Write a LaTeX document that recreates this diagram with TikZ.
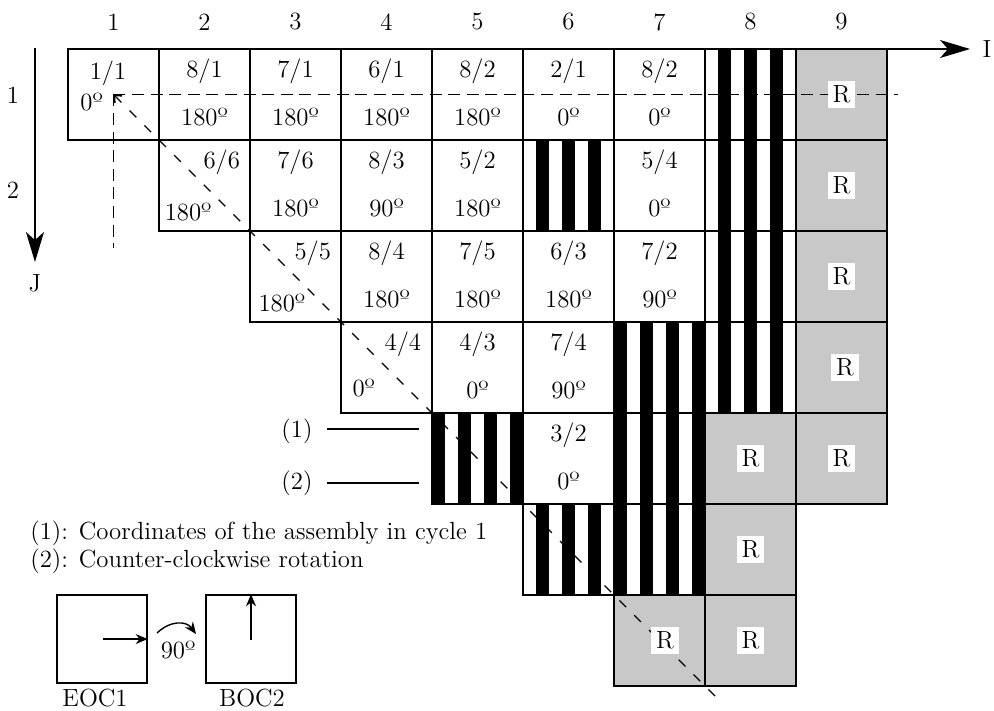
\documentclass[tikz,border=0pt]{standalone}
\usetikzlibrary{arrows.meta}
\definecolor{cellgray}{RGB}{200,200,200}
\newcommand{\cellfont}{\fontsize{12.4}{15}\selectfont}
\begin{document}
\begin{tikzpicture}[x=1.6cm,y=-1.6cm,
  cellbox/.style={draw,line width=0.7pt,minimum size=1.6cm,inner sep=0pt,outer sep=0pt},
  graybox/.style={cellbox,fill=cellgray},
  txt/.style={font=\cellfont,inner sep=1pt},
  rlab/.style={font=\cellfont,fill=white,inner sep=2.5pt},
  gdash/.style={line width=0.7pt,dash pattern=on 6pt off 3.3pt},
  ddash/.style={line width=0.7pt,dash pattern=on 4.7pt off 5.8pt},
  axis/.style={line width=0.7pt,-{Stealth[length=15pt,width=9pt,inset=4pt]}},
  smallarrow/.style={line width=0.7pt,-{Stealth[length=6pt,width=5pt]}},
  boxnode/.style={draw,line width=0.7pt,minimum width=1.58cm,minimum height=1.55cm,inner sep=0pt}
]
\useasboundingbox (-0.7473,-0.5385) rectangle (10.1758,7.2747);

% stripes with three black bands
\foreach \col/\row in {8/1,8/2,8/3,8/4,6/2,6/6}
  \foreach \k in {1,3,5}
    \fill (\col-1+\k/7,\row-1) rectangle (\col-1+\k/7+1/7,\row);
% stripes with four black bands
\foreach \col/\row in {7/4,7/5,7/6,5/5}
  \foreach \k in {0,2,4,6}
    \fill (\col-1+\k/7,\row-1) rectangle (\col-1+\k/7+1/7,\row);

% white / striped cells (borders)
\foreach \col/\row in {1/1,2/1,3/1,4/1,5/1,6/1,7/1,8/1,
                       2/2,3/2,4/2,5/2,6/2,7/2,8/2,
                       3/3,4/3,5/3,6/3,7/3,8/3,
                       4/4,5/4,6/4,7/4,8/4,
                       5/5,6/5,7/5,
                       6/6,7/6}
  \node[cellbox] (c\col r\row) at (\col-0.5,\row-0.5) {};
% gray cells
\foreach \col/\row in {9/1,9/2,9/3,9/4,9/5,8/5,8/6,8/7,7/7}
  \node[graybox] (c\col r\row) at (\col-0.5,\row-0.5) {};

% ordinary cell texts
\foreach \col/\row/\pa/\pb/\ang in {2/1/8/1/180,3/1/7/1/180,4/1/6/1/180,5/1/8/2/180,6/1/2/1/0,7/1/8/2/0,
    3/2/7/6/180,4/2/8/3/90,5/2/5/2/180,7/2/5/4/0,
    4/3/8/4/180,5/3/7/5/180,6/3/6/3/180,7/3/7/2/90,
    5/4/4/3/0,6/4/7/4/90,6/5/3/2/0}
{
  \node[txt] (t\col r\row) at (\col-0.5,\row-0.76) {\pa/\pb};
  \node[txt] (b\col r\row) at (\col-0.5,\row-0.25) {{\ang}º};
}
% diagonal cell texts
\node[txt] (t1r1) at (0.44,0.27) {1/1};
\node[txt] (b1r1) at (0.26,0.58) {0º};
\node[txt] (t2r2) at (1.69,1.25) {6/6};
\node[txt] (b2r2) at (1.32,1.79) {180º};
\node[txt] (t3r3) at (2.69,2.25) {5/5};
\node[txt] (b3r3) at (2.35,2.79) {180º};
\node[txt] (t4r4) at (3.68,3.25) {4/4};
\node[txt] (b4r4) at (3.25,3.73) {0º};

% dashed guide lines
\coordinate (o) at (0.5,0.5);
\coordinate (hx) at (9.12,0.5);
\coordinate (vy) at (0.5,2.19);
\coordinate (dg) at (7.14,7.14);
\draw[gdash] (o) -- (hx);
\draw[gdash] (o) -- (vy);
\draw[ddash,{Straight Barb[length=3pt,width=5pt]}-] (o) -- (dg);

% R labels
\foreach \col/\row/\dx in {9/1/0,9/2/0,9/3/0,9/4/0.04,9/5/0,8/5/0,8/6/0,8/7/0,7/7/0.06}
  \node[rlab] (r\col r\row) at (\col-0.5+\dx,\row-0.5) {R};

% axes
\coordinate (ie) at (9.912,0);
\draw[axis] (c9r1.north east) -- (ie);
\node[txt] (ilab) at (10.099,0) {I};
\coordinate (js) at (-0.363,-0.011);
\coordinate (je) at (-0.363,2.341);
\draw[axis] (js) -- (je);
\node[txt] (jlab) at (-0.363,2.571) {J};
\foreach \col in {1,...,9}
  \node[txt] (col\col) at (\col-0.5,-0.297) {\col};
\node[txt] (row1) at (-0.604,0.505) {1};
\node[txt] (row2) at (-0.604,1.549) {2};

% (1), (2) markers
\node[txt] (n1) at (2.516,4.198) {(1)};
\node[txt] (n2) at (2.516,4.77) {(2)};
\coordinate (n1s) at (2.846,4.176);
\coordinate (n1e) at (3.857,4.176);
\coordinate (n2s) at (2.846,4.769);
\coordinate (n2e) at (3.857,4.769);
\draw[line width=0.7pt] (n1s) -- (n1e);
\draw[line width=0.7pt] (n2s) -- (n2e);

% legend
\node[txt,anchor=base west] (leg1) at (-0.44,5.39) {(1): Coordinates of the assembly in cycle 1};
\node[txt,anchor=base west] (leg2) at (-0.44,5.70) {(2): Counter-clockwise rotation};

% EOC1 / BOC2
\node[boxnode] (eoc) at (0.374,6.484) {};
\node[boxnode] (boc) at (2.011,6.484) {};
\coordinate (ea) at (0.385,6.484);
\draw[smallarrow] (ea) -- (eoc.east);
\coordinate (ba) at (2.011,6.495);
\draw[smallarrow] (ba) -- (boc.north);
\coordinate (ca) at (0.978,6.418);
\coordinate (cb) at (1.407,6.429);
\draw[smallarrow] (ca) .. controls (1.121,6.28) and (1.297,6.28) .. (cb);
\node[txt] (deg) at (1.209,6.604) {90º};
\node[txt] (eoclab) at (0.297,7.132) {EOC1};
\node[txt] (boclab) at (2.022,7.132) {BOC2};
\end{tikzpicture}
\end{document}
